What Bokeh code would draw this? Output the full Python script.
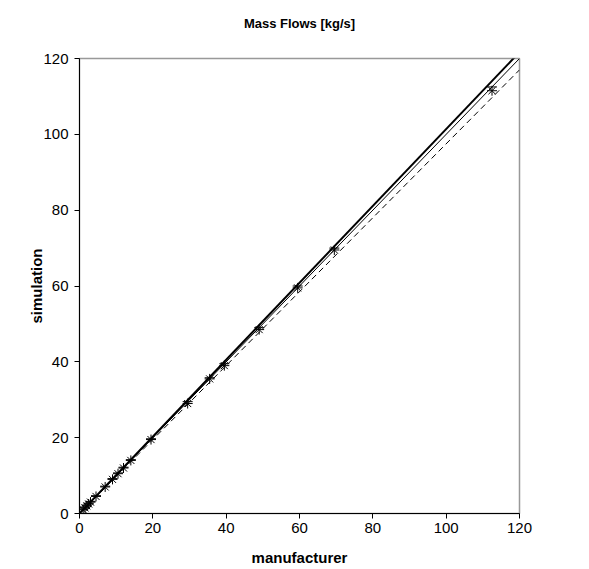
from bokeh.plotting import figure
from bokeh.embed import file_html
from bokeh.resources import INLINE
from bokeh.models import Range1d, FixedTicker

# data
manufacturer = [1.0, 1.5, 2.0, 2.5, 3.0, 4.5, 7.0, 9.0, 10.5, 12.0, 14.0, 19.5, 29.5, 35.5, 39.5, 49.0, 59.5, 69.5, 112.5]
simulation   = [1.0, 1.5, 2.0, 2.5, 3.0, 4.5, 7.0, 9.0, 10.5, 12.0, 14.0, 19.5, 29.0, 35.5, 39.0, 48.5, 59.5, 69.5, 111.5]
simulation_b = [1.2, 1.7, 2.2, 2.7, 3.2, 4.7, 7.2, 9.2, 10.7, 12.2, 14.2, 19.7, 29.5, 35.8, 39.5, 49.0, 60.0, 70.0, 112.5]

line_x = [0, 120]
identity = [0, 120]
upper_slope = 1.014
lower_slope = 0.975
upper_line = [v * upper_slope for v in line_x]
lower_line = [v * lower_slope for v in line_x]

ticks = [0, 20, 40, 60, 80, 100, 120]
title_text = "Mass Flows [kg/s]"

FONT = "Liberation Sans"

p = figure(width=589, height=569, output_backend="svg", toolbar_location=None,
           x_range=Range1d(0, 120), y_range=Range1d(0, 120),
           title=title_text + "\n",
           min_border_left=79, min_border_right=70, min_border_top=58, min_border_bottom=56)

p.title.text_font = FONT
p.title.text_font_size = "13px"
p.title.text_font_style = "bold"
p.title.text_color = "black"
p.title.align = "center"
p.title.standoff = 26

p.background_fill_color = "white"
p.border_fill_color = "white"
p.outline_line_color = "#999999"
p.outline_line_width = 1.5
p.grid.visible = False

for ax in (p.xaxis, p.yaxis):
    ax.ticker = FixedTicker(ticks=ticks)
    ax.minor_tick_line_color = None
    ax.major_tick_out = 5
    ax.major_tick_in = 0
    ax.axis_line_color = "black"
    ax.axis_line_width = 1
    ax.major_tick_line_color = "black"
    ax.major_label_text_font = FONT
    ax.major_label_text_font_size = "15px"
    ax.major_label_text_color = "black"
    ax.axis_label_text_font = FONT
    ax.axis_label_text_font_size = "15px"
    ax.axis_label_text_font_style = "bold"
    ax.axis_label_text_color = "black"

p.xaxis.axis_label = "manufacturer"
p.yaxis.axis_label = "simulation"
p.xaxis.major_label_standoff = 4
p.xaxis.axis_label_standoff = 13
p.yaxis.major_label_standoff = 6
p.yaxis.axis_label_standoff = -5

p.line(line_x, identity, line_color="black", line_width=1)
p.line(line_x, upper_line, line_color="black", line_width=2)
p.line(line_x, lower_line, line_color="black", line_width=1, line_dash="6 4")

p.scatter(manufacturer, simulation, marker="asterisk", size=10, line_color="black", line_width=1)
p.scatter(manufacturer, simulation_b, marker="dash", size=10, line_color="black", line_width=1)

open("out.html", "w").write(file_html(p, INLINE))
